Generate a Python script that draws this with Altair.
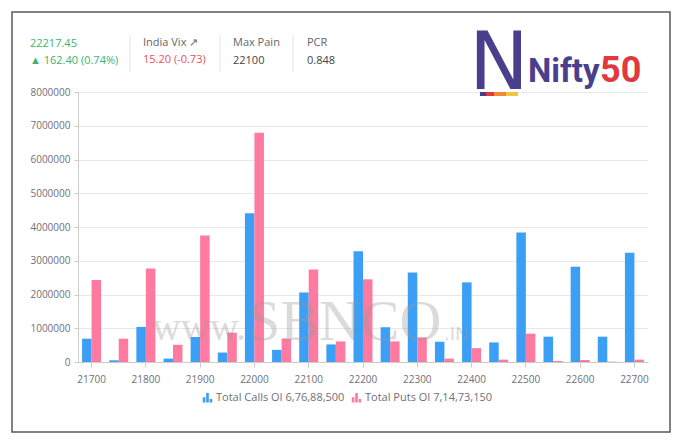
import altair as alt
import pandas as pd

strikes = [21700, 21750, 21800, 21850, 21900, 21950, 22000, 22050, 22100, 22150,
           22200, 22250, 22300, 22350, 22400, 22450, 22500, 22550, 22600, 22650, 22700]
calls_oi = [690000, 50000, 1040000, 100000, 740000, 280000, 4410000, 360000, 2060000, 520000,
            3280000, 1030000, 2650000, 600000, 2360000, 580000, 3840000, 750000, 2820000, 750000, 3240000]
puts_oi = [2430000, 690000, 2770000, 510000, 3750000, 870000, 6790000, 690000, 2740000, 610000,
           2450000, 610000, 730000, 100000, 410000, 70000, 840000, 30000, 60000, 10000, 70000]
series_names = ["Total Calls OI 6,76,88,500", "Total Puts OI 7,14,73,150"]
series_colors = ["#3a9ff5", "#ff7aa0"]
x_label_values = [21700, 21800, 21900, 22000, 22100, 22200, 22300, 22400, 22500, 22600, 22700]
y_tick_values = [0, 1000000, 2000000, 3000000, 4000000, 5000000, 6000000, 7000000, 8000000]

rows = []
for s, c, p in zip(strikes, calls_oi, puts_oi):
    rows.append({"strike": s, "series": series_names[0], "value": c})
    rows.append({"strike": s, "series": series_names[1], "value": p})
df = pd.DataFrame(rows)

FONT = "Open Sans"
GREY = "#6e7079"
bar_icon = "M-1,1V-0.1H-0.45V1Z M-0.28,1V-1H0.28V1Z M0.45,1V0.25H1V1Z"

bars = alt.Chart(df).mark_bar().encode(
    x=alt.X("strike:O",
            scale=alt.Scale(paddingInner=0.3, paddingOuter=0.15),
            axis=alt.Axis(values=x_label_values, title=None, labelAngle=0,
                          labelFont=FONT, labelFontSize=10, labelColor=GREY,
                          labelPadding=7, tickSize=5, tickColor="#cccccc",
                          domainColor="#cccccc", grid=False)),
    xOffset=alt.XOffset("series:N", sort=series_names, scale=alt.Scale(paddingInner=0)),
    y=alt.Y("value:Q",
            scale=alt.Scale(domain=[0, 8000000], nice=False),
            axis=alt.Axis(values=y_tick_values, format="d", title=None,
                          labelFont=FONT, labelFontSize=10, labelColor=GREY,
                          labelPadding=4, tickSize=4, tickColor="#cccccc",
                          domainColor="#cccccc", gridColor="#e8e8e8")),
    color=alt.Color("series:N",
                    scale=alt.Scale(domain=series_names, range=series_colors),
                    legend=alt.Legend(title=None, orient="none", legendX=124, legendY=300,
                                      direction="horizontal", symbolType=bar_icon,
                                      symbolSize=90, symbolStrokeWidth=0,
                                      labelFont=FONT, labelFontSize=11, labelColor=GREY,
                                      labelOffset=3, columnPadding=6)),
)

one = pd.DataFrame({"a": [0]})


def txt(text, x, y, color, size=11, weight="normal", align="left", font=FONT,
        baseline="middle", opacity=1.0):
    return alt.Chart(one).mark_text(text=text, align=align, baseline=baseline,
                                    font=font, fontSize=size, fontWeight=weight,
                                    color=color, opacity=opacity).encode(
        x=alt.value(x), y=alt.value(y))


def rule(x, x2, y, y2, color, width=1.0):
    return alt.Chart(one).mark_rule(color=color, strokeWidth=width).encode(
        x=alt.value(x), x2=alt.value(x2), y=alt.value(y), y2=alt.value(y2))


frame = alt.Chart(one).mark_rect(fillOpacity=0, stroke="#5a5a5a", strokeWidth=1.5).encode(
    x=alt.value(-66), x2=alt.value(592), y=alt.value(-80), y2=alt.value(340))

header = [
    txt("22217.45", -48, -48, "#3cb46e"),
    txt("▲ 162.40 (0.74%)", -48, -31, "#3cb46e"),
    rule(52, 52, -57, -20, "#e3e3e3"),
    txt("India Vix ↗", 65, -49, "#666666"),
    txt("15.20 (-0.73)", 65, -32, "#e8505b"),
    rule(142, 142, -57, -20, "#e3e3e3"),
    txt("Max Pain", 155, -49, "#666666"),
    txt("22100", 155, -31, "#444444"),
    rule(215, 215, -57, -20, "#e3e3e3"),
    txt("PCR", 229, -49, "#666666"),
    txt("0.848", 229, -31, "#444444"),
]

logo = [
    txt("N", 421, -3, "#4a3f8c", size=80, align="center", font="DejaVu Sans",
        baseline="alphabetic"),
    txt("Nifty", 450, -10, "#4a3f8c", size=33, weight="bold", font="Roboto",
        baseline="alphabetic"),
    txt("50", 522, -10, "#e03a3e", size=36, weight="bold", font="Roboto", align="left",
        baseline="alphabetic"),
    rule(402, 408, 2, 2, "#4a3f8c", 4),
    rule(408, 416, 2, 2, "#e03a3e", 4),
    rule(416, 428, 2, 2, "#ef8a3c", 4),
    rule(428, 440, 2, 2, "#f5c242", 4),
]

watermark = [
    txt("www.", 168, 248, "#9a9a9a", size=40, align="right", font="Liberation Serif",
        baseline="alphabetic", opacity=0.35),
    txt("SBNCO", 170, 248, "#9a9a9a", size=58, font="Liberation Serif",
        baseline="alphabetic", opacity=0.35),
    txt(".IN", 366, 248, "#9a9a9a", size=18, font="DejaVu Sans",
        baseline="alphabetic", opacity=0.35),
]

chart = alt.layer(frame, bars, *header, *logo, *watermark).properties(
    width=570, height=270,
    padding={"left": 70, "top": 84, "right": 24, "bottom": 75},
    autosize=alt.AutoSizeParams(type="none"),
).configure_view(stroke=None)

chart.save("out.html", embed_options={"renderer": "svg", "actions": False})
